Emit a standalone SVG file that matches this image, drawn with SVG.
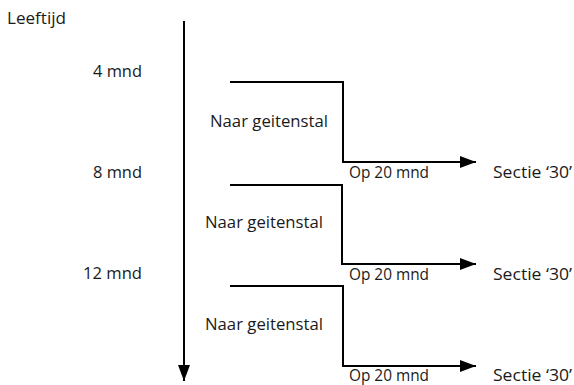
<svg xmlns="http://www.w3.org/2000/svg" width="574" height="385" viewBox="0 0 574 385">
<defs>
<marker id="ah" markerWidth="16" markerHeight="12" refX="16" refY="6" orient="auto" markerUnits="userSpaceOnUse">
<path d="M0,0 L16,6 L0,12 Z" fill="#000"/>
</marker>
<style>
text{font-family:"Open Sans","Liberation Sans",sans-serif;font-size:16px;fill:#1a1a1a}
.ln{fill:none;stroke:#000;stroke-width:2}
</style>
</defs>
<rect width="574" height="385" fill="#fff"/>
<g id="labels">
<text x="7" y="24" textLength="59" lengthAdjust="spacingAndGlyphs">Leeftijd</text>
<text x="93" y="77" textLength="49" lengthAdjust="spacingAndGlyphs">4 mnd</text>
<text x="93" y="178" textLength="49" lengthAdjust="spacingAndGlyphs">8 mnd</text>
<text x="83" y="279" textLength="59" lengthAdjust="spacingAndGlyphs">12 mnd</text>
</g>
<g id="connectors">
<line class="ln" x1="184" y1="21" x2="184" y2="381" marker-end="url(#ah)"/>
<polyline class="ln" points="230,82 343,82 343,162 476,162" marker-end="url(#ah)"/>
<polyline class="ln" points="230,185 342,185 342,264 476,264" marker-end="url(#ah)"/>
<polyline class="ln" points="230,286 343,286 343,366 476,366" marker-end="url(#ah)"/>
</g>
<g id="step1">
<text x="210" y="127" textLength="118" lengthAdjust="spacingAndGlyphs">Naar geitenstal</text>
<text x="349" y="178" textLength="80" lengthAdjust="spacingAndGlyphs">Op 20 mnd</text>
<text x="493" y="178" textLength="79" lengthAdjust="spacingAndGlyphs">Sectie ‘30’</text>
</g>
<g id="step2">
<text x="205" y="228" textLength="118" lengthAdjust="spacingAndGlyphs">Naar geitenstal</text>
<text x="349" y="280" textLength="80" lengthAdjust="spacingAndGlyphs">Op 20 mnd</text>
<text x="493" y="280" textLength="79" lengthAdjust="spacingAndGlyphs">Sectie ‘30’</text>
</g>
<g id="step3">
<text x="205" y="330" textLength="118" lengthAdjust="spacingAndGlyphs">Naar geitenstal</text>
<text x="349" y="381" textLength="80" lengthAdjust="spacingAndGlyphs">Op 20 mnd</text>
<text x="493" y="381" textLength="79" lengthAdjust="spacingAndGlyphs">Sectie ‘30’</text>
</g>
</svg>
